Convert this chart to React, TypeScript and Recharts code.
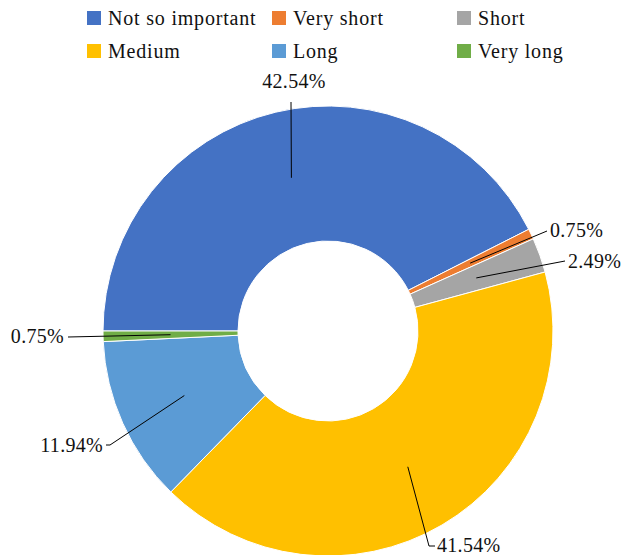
import { PieChart, Pie, Cell } from 'recharts';

const CATEGORIES = ['Not so important', 'Very short', 'Short', 'Medium', 'Long', 'Very long'];
const SHARES = [42.54, 0.75, 2.49, 41.54, 11.94, 0.75];
const COLORS = ['#4472C4', '#ED7D31', '#A5A5A5', '#FFC000', '#5B9BD5', '#70AD47'];

const data = CATEGORIES.map((name, i) => ({ name, value: SHARES[i] }));

const FONT = '"Liberation Serif", "Times New Roman", serif';
const RADIAN = Math.PI / 180;

// where each leader line ends, relative to the pie centre
const LABEL_PLACES = [
  { end: [-37, -229], text: [-34, -243], anchor: 'middle' },
  { end: [219, -100], text: [222, -94], anchor: 'start' },
  { end: [237, -70], text: [240, -63], anchor: 'start' },
  { end: [101, 215], elbow: 6, text: [109, 221], anchor: 'start' },
  { end: [-218, 114], elbow: -4, text: [-225, 121], anchor: 'end' },
  { end: [-260, 6], text: [-264, 12], anchor: 'end' },
];

const renderLabel = ({ cx, cy, midAngle, innerRadius, outerRadius, index, value }: any) => {
  const r = (innerRadius + outerRadius) / 2;
  const x0 = cx + r * Math.cos(-midAngle * RADIAN);
  const y0 = cy + r * Math.sin(-midAngle * RADIAN);
  const p = LABEL_PLACES[index];
  const x1 = cx + p.end[0];
  const y1 = cy + p.end[1];
  let path = `M${x0},${y0}L${x1},${y1}`;
  if (p.elbow) path += `l${p.elbow},0`;
  return (
    <g>
      <path d={path} stroke="#000" strokeWidth={1} fill="none" />
      <text
        x={cx + p.text[0]}
        y={cy + p.text[1]}
        textAnchor={p.anchor as any}
        fontFamily={FONT}
        fontSize={20}
        letterSpacing={0.3}
        fill="#111"
      >
        {`${Number(value).toFixed(2)}%`}
      </text>
    </g>
  );
};

const LEGEND_COLS = [87, 272, 457];
const LEGEND_ROWS = [18, 51];

const Legend = () => (
  <div style={{ position: 'absolute', left: 0, top: 0, width: 624, height: 70 }}>
    {CATEGORIES.map((name, i) => (
      <div
        key={name}
        style={{
          position: 'absolute',
          left: LEGEND_COLS[i % 3],
          top: LEGEND_ROWS[Math.floor(i / 3)] - 12,
          height: 24,
          display: 'flex',
          alignItems: 'center',
          fontFamily: FONT,
          fontSize: 20,
          letterSpacing: 0.8,
          color: '#111',
          whiteSpace: 'nowrap',
        }}
      >
        <span style={{ width: 14, height: 14, background: COLORS[i], marginRight: 7, display: 'inline-block' }} />
        {name}
      </div>
    ))}
  </div>
);

export default function App() {
  return (
    <div style={{ position: 'absolute', left: 0, top: 0, width: 624, height: 555, background: '#fff', overflow: 'hidden' }}>
      <PieChart width={624} height={555} margin={{ top: 0, right: 0, bottom: 0, left: 0 }}>
        <Pie
          data={data}
          dataKey="value"
          cx={328}
          cy={331}
          innerRadius={90}
          outerRadius={225}
          startAngle={180}
          endAngle={-180}
          stroke="#fff"
          strokeWidth={1}
          label={renderLabel}
          labelLine={false}
          isAnimationActive={false}
        >
          {data.map((entry, i) => (
            <Cell key={`cell-${i}`} fill={COLORS[i]} />
          ))}
        </Pie>
      </PieChart>
      <Legend />
    </div>
  );
}
